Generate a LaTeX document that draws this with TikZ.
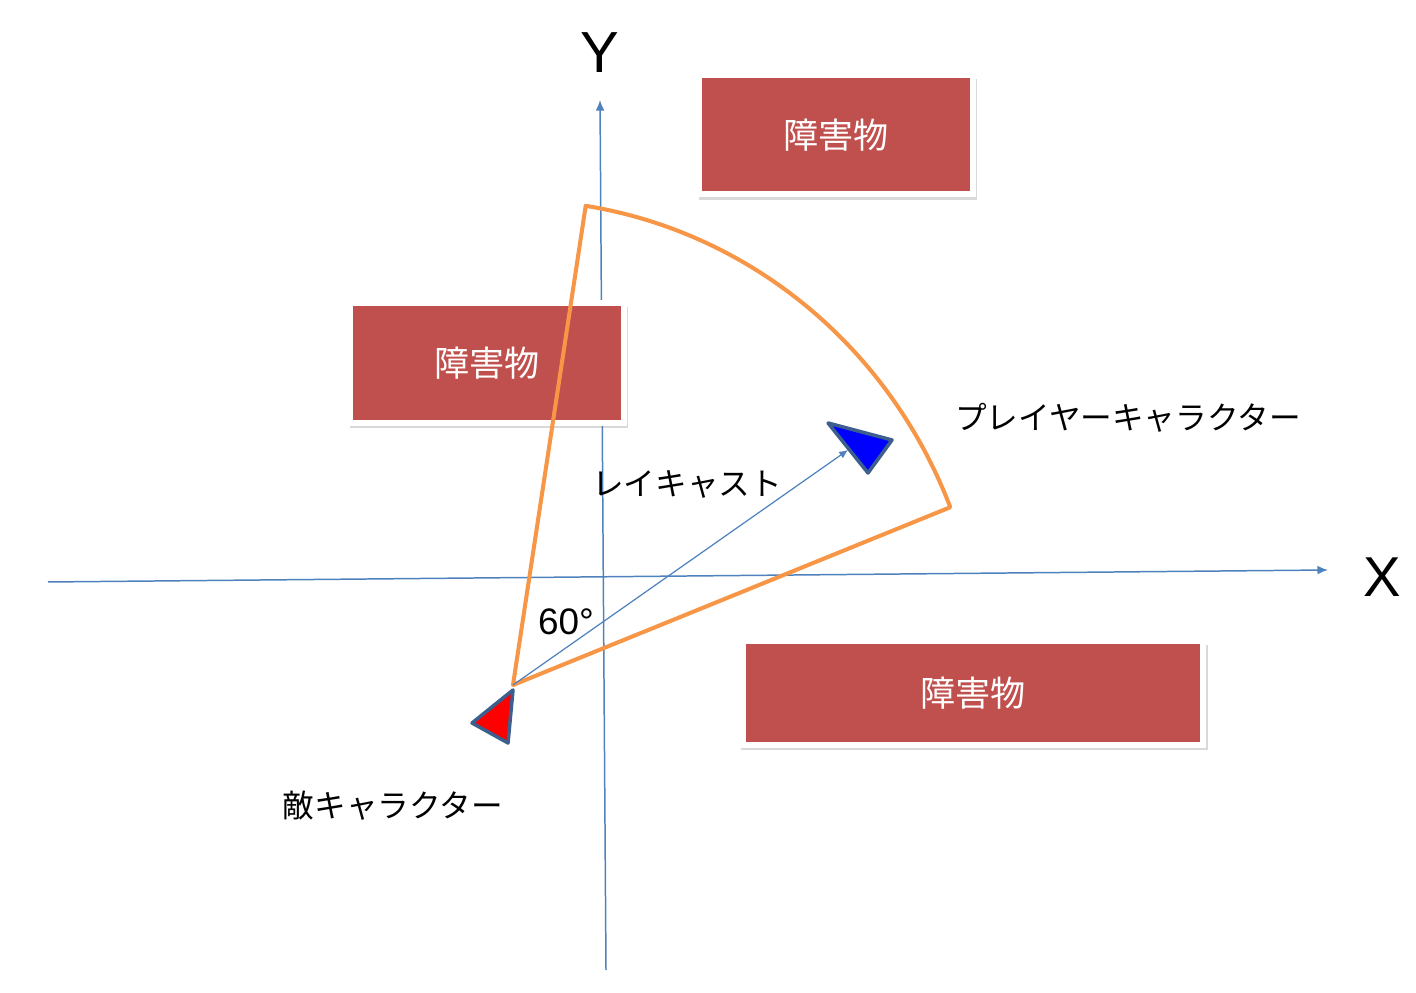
\documentclass[tikz,border=0pt]{standalone}
\usepackage{fontspec}
\setmainfont{Liberation Sans}
\newfontfamily\jp{Noto Sans CJK JP}
\usepackage{xcolor}
\usepackage{tikz}
\usetikzlibrary{positioning, shadows}
\usetikzlibrary{arrows.meta}

\definecolor{axisblue}{HTML}{4F81BD}
\definecolor{obsred}{HTML}{C0504D}
\definecolor{fovorange}{HTML}{F79646}
\definecolor{edgeblue}{HTML}{3C5F8D}

\begin{document}
\begin{tikzpicture}[x=0.02cm,y=0.02cm,>={Latex[length=6pt,width=5pt]},
	obstacle/.style={rectangle,fill=obsred,draw=white,line width=0.12cm,minimum width=5.48cm,minimum height=2.38cm,text=white,font=\jp\fontsize{20}{24}\selectfont,drop shadow={shadow xshift=1pt,shadow yshift=-2.5pt,shadow scale=1.015,opacity=0.3}},
	jptext/.style={font=\jp\fontsize{18}{21}\selectfont},
	axis/.style={draw=axisblue,line width=0.85pt,->},
	fov/.style={draw=fovorange,line width=2.3pt,line join=round},
	mark triangle/.style={draw=edgeblue,line width=2pt,line join=round}]

		\useasboundingbox (0,0) rectangle (1416,993);

		% axes
		\coordinate (xstart) at (48,411);
		\coordinate (xend) at (1328,423);
		\coordinate (ystart) at (606,23);
		\coordinate (yend) at (600,893);
		\draw[axis] (xstart) -- (xend);
		\draw[axis] (ystart) -- (yend);
		\node (xlabel) at (1382,416) {\fontsize{32}{36}\selectfont X};
		\node (ylabel) at (600,940) {\fontsize{33}{36}\selectfont Y};

		% obstacles
		\node[obstacle] (obs1) at (836,858) {障害物};
		\node[obstacle,minimum height=2.4cm] (obs2) at (487,630) {障害物};
		\node[obstacle,minimum width=9.2cm,minimum height=2.07cm] (obs3) at (973,300) {障害物};

		% field of view
		\coordinate (enemy) at (513,308);
		\draw[fov] (enemy) -- ++(81.1:470 and 485) arc[start angle=81.1,end angle=21.5,x radius=470,y radius=485] -- cycle;

		% ray cast
		\coordinate (rayend) at (848,543);
		\draw[draw=axisblue,line width=0.7pt,->,>={Latex[length=5pt,width=4.5pt]}] (enemy) -- (rayend);

		% characters
		\draw[mark triangle,fill=blue] (828,570) -- (892,553) -- (868,520) -- cycle;
		\draw[mark triangle,fill=red] (513,303) -- (472,270) -- (508,250) -- cycle;

		\node[jptext] (playerlabel) at (1128,575) {プレイヤーキャラクター};
		\node[jptext] (raylabel) at (687,509) {レイキャスト};
		\node (anglelabel) at (566,371) {\fontsize{21}{24}\selectfont 60°};
		\node[jptext] (enemylabel) at (393,187) {敵キャラクター};

	\end{tikzpicture}
\end{document}
